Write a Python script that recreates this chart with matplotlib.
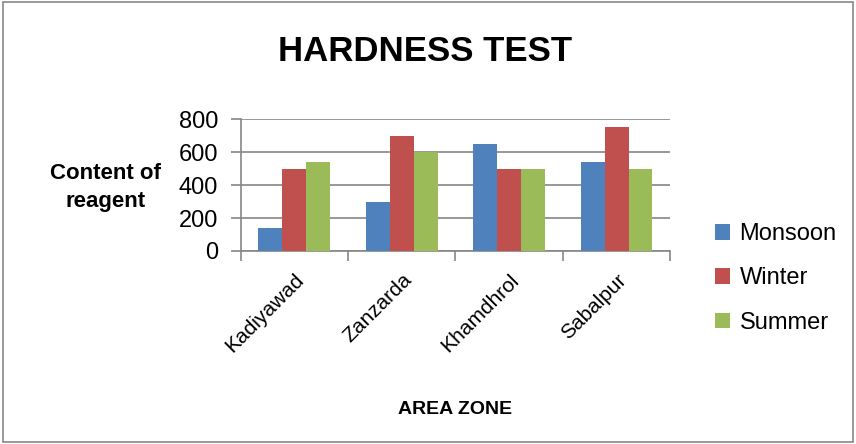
import numpy as np
import matplotlib.pyplot as plt
from matplotlib.patches import Rectangle

plt.rcParams['font.family'] = ['Liberation Sans', 'DejaVu Sans']

zones = ['Kadiyawad', 'Zanzarda', 'Khamdhrol', 'Sabalpur']
seasons = ['Monsoon', 'Winter', 'Summer']
monsoon = [140, 300, 650, 540]
winter = [500, 700, 500, 750]
summer = [540, 600, 500, 500]
colors = ['#4F81BD', '#C0504D', '#9BBB59']

fig = plt.figure(figsize=(8.56, 4.44), dpi=100)
fig.patches.append(Rectangle((0.003, 0.005), 0.994, 0.99, transform=fig.transFigure,
                             fill=False, edgecolor='#888888', linewidth=1.2))
ax = fig.add_axes([0.281, 0.4347, 0.502, 0.297])

x = np.arange(len(zones))
w = 0.223
for i, (vals, name) in enumerate(zip([monsoon, winter, summer], seasons)):
    ax.bar(x + (i - 1) * w, vals, w, color=colors[i], label=name, zorder=3)

ax.set_xlim(-0.5, 3.5)
ax.set_ylim(0, 800)
ax.set_yticks([0, 200, 400, 600, 800])
ax.yaxis.grid(True, color='#868686', linewidth=1.2, zorder=0)
ax.set_xticks(x)
ax.set_xticklabels(zones, rotation=45, ha='right', rotation_mode='anchor', fontsize=15)
ax.set_xticks(np.arange(-0.5, 4.0, 1.0), minor=True)
ax.tick_params(axis='x', which='major', length=0, pad=14)
ax.tick_params(axis='x', which='minor', length=7, width=1.2, color='#868686', direction='out')
ax.tick_params(axis='y', length=7, width=1.2, color='#868686', labelsize=17, pad=9)
for s in ['top', 'right']:
    ax.spines[s].set_visible(False)
for s in ['left', 'bottom']:
    ax.spines[s].set_color('#868686')
    ax.spines[s].set_linewidth(1.2)

fig.text(0.497, 0.884, 'HARDNESS TEST', ha='center', va='center', fontsize=25, fontweight='bold')
fig.text(0.123, 0.578, 'Content of\nreagent', ha='center', va='center', fontsize=16,
         fontweight='bold', linespacing=1.4)
fig.text(0.532, 0.077, 'AREA ZONE', ha='center', va='center', fontsize=14, fontweight='bold')

fig.legend(loc='center left', bbox_to_anchor=(0.81, 0.373), frameon=False, fontsize=17,
           handlelength=0.65, handleheight=0.65, handletextpad=0.4, labelspacing=0.95)

fig.savefig('out.png', dpi=100)
